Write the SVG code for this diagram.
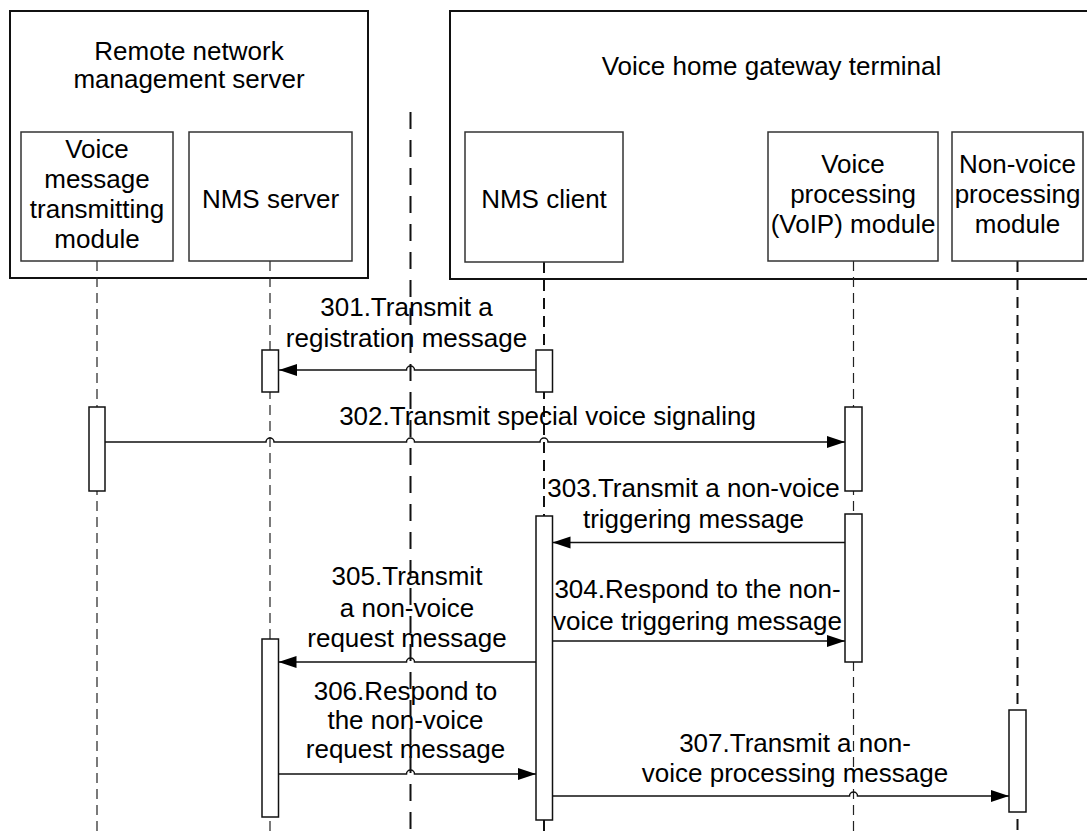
<svg xmlns="http://www.w3.org/2000/svg" width="1087" height="834" viewBox="0 0 1087 834">
<style>
text{font-family:"Liberation Sans",Arial,sans-serif;font-size:26px;fill:#000;text-anchor:middle}
.outer{fill:none;stroke:#111;stroke-width:2}
.inner{fill:#fff;stroke:#333;stroke-width:1.5}
.life{fill:none;stroke:#222;stroke-width:1.2;stroke-dasharray:10 6}
.life2{fill:none;stroke:#111;stroke-width:2;stroke-dasharray:11 7}
.center{fill:none;stroke:#111;stroke-width:2;stroke-dasharray:17 11}
.act{fill:#fff;stroke:#111;stroke-width:1.5}
.msg{fill:none;stroke:#111;stroke-width:1.5}
</style>
<defs>
<marker id="ah" markerUnits="userSpaceOnUse" markerWidth="19" markerHeight="13" refX="18" refY="6" orient="auto">
<path d="M0,0 L18,6 L0,12 z" fill="#000"/>
</marker>
</defs>

<g id="remote-server">
<rect class="outer" x="10" y="11" width="358" height="267"/>
<text x="189" y="60">Remote network</text>
<text x="189" y="88">management server</text>
</g>

<g id="home-gateway">
<rect class="outer" x="450" y="11" width="645" height="268"/>
<text x="771.5" y="75">Voice home gateway terminal</text>
</g>

<g id="lifelines">
<line class="life" x1="97" y1="261" x2="97" y2="834"/>
<line class="life" x1="270" y1="261" x2="270" y2="834"/>
<line class="life2" x1="544" y1="262" x2="544" y2="834"/>
<line class="life" x1="853.5" y1="261" x2="853.5" y2="834"/>
<line class="life2" x1="1017.5" y1="261" x2="1017.5" y2="834"/>
</g>

<g id="voice-message-transmitting-module">
<rect class="inner" x="21" y="132" width="152" height="129"/>
<text x="97" y="158">Voice</text>
<text x="97" y="188">message</text>
<text x="97" y="218">transmitting</text>
<text x="97" y="248">module</text>
<rect class="act" x="89" y="407" width="16" height="84"/>
</g>

<g id="nms-server">
<rect class="inner" x="189" y="132" width="163" height="129"/>
<text x="270.5" y="208">NMS server</text>
<rect class="act" x="262" y="350" width="16.5" height="42"/>
<rect class="act" x="262" y="639" width="16.5" height="178"/>
</g>

<g id="nms-client">
<rect class="inner" x="465" y="132" width="158" height="130"/>
<text x="544" y="208">NMS client</text>
<rect class="act" x="536" y="350" width="16.5" height="42"/>
<rect class="act" x="536" y="516" width="16.5" height="304"/>
</g>

<g id="voice-processing-module">
<rect class="inner" x="768" y="132" width="170" height="129"/>
<text x="853" y="173">Voice</text>
<text x="853" y="203">processing</text>
<text x="853" y="233">(VoIP) module</text>
<rect class="act" x="845" y="407" width="17" height="84"/>
<rect class="act" x="845" y="514" width="17" height="148"/>
</g>

<g id="non-voice-processing-module">
<rect class="inner" x="952" y="132" width="131" height="129"/>
<text x="1017.5" y="173">Non-voice</text>
<text x="1017.5" y="203">processing</text>
<text x="1017.5" y="233">module</text>
<rect class="act" x="1009" y="710" width="17" height="102"/>
</g>

<g id="connectors">
<path class="msg" marker-end="url(#ah)" d="M536,370 H414.5 A4,4 0 0 0 406.5,370 H279"/>
<path class="msg" marker-end="url(#ah)" d="M105,442 H266 A4,4 0 0 1 274,442 H406.5 A4,4 0 0 1 414.5,442 H540 A4,4 0 0 1 548,442 H845"/>
<path class="msg" marker-end="url(#ah)" d="M845,542.5 H552.5"/>
<path class="msg" marker-end="url(#ah)" d="M552.5,641 H845"/>
<path class="msg" marker-end="url(#ah)" d="M536,662 H414.5 A4,4 0 0 0 406.5,662 H278.5"/>
<path class="msg" marker-end="url(#ah)" d="M278.5,774 H406.5 A4,4 0 0 1 414.5,774 H536"/>
<path class="msg" marker-end="url(#ah)" d="M552.5,796 H849.5 A4,4 0 0 1 857.5,796 H1009"/>
</g>

<g id="labels">
<text x="406.5" y="316">301.Transmit a</text>
<text x="406.5" y="347">registration message</text>
<text x="547.5" y="425">302.Transmit special voice signaling</text>
<text x="693.5" y="497">303.Transmit a non-voice</text>
<text x="693.5" y="528">triggering message</text>
<text x="697.5" y="598">304.Respond to the non-</text>
<text x="697.5" y="630">voice triggering message</text>
<text x="407" y="585">305.Transmit</text>
<text x="407" y="617">a non-voice</text>
<text x="407" y="647">request message</text>
<text x="405.5" y="700">306.Respond to</text>
<text x="405.5" y="729">the non-voice</text>
<text x="405.5" y="758">request message</text>
<text x="795" y="752">307.Transmit a non-</text>
<text x="795" y="782">voice processing message</text>
</g>

<g id="boundary">
<line class="center" x1="410.5" y1="112" x2="410.5" y2="834"/>
</g>
</svg>
